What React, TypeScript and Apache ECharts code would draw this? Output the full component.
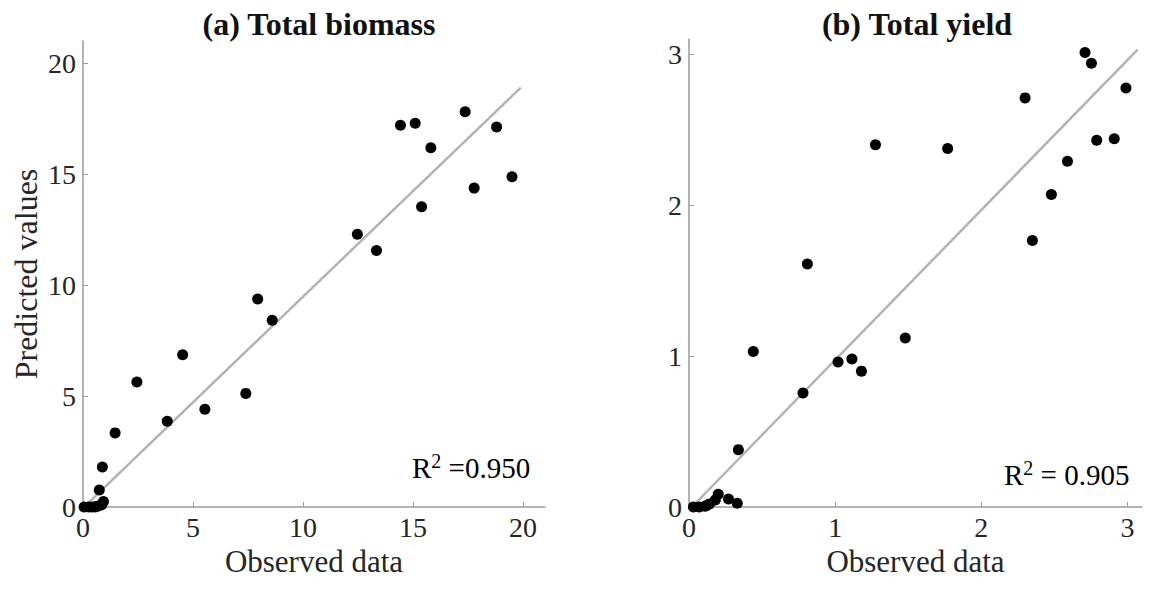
import React, { useEffect, useRef } from "react";
import * as echarts from "echarts";

// (a) Total biomass: observed vs predicted
const biomassObserved = [14.43, 15.1, 17.37, 18.8, 15.81, 19.5, 17.78, 15.39, 12.47, 13.34, 7.94, 8.6, 4.53, 2.45, 7.4, 5.54, 3.83, 1.46, 0.88, 0.74, 0.93, 0.05, 0.25, 0.4, 0.55, 0.7, 0.85, 0.6];
const biomassPredicted = [17.2, 17.29, 17.81, 17.12, 16.19, 14.88, 14.37, 13.53, 12.29, 11.56, 9.37, 8.42, 6.86, 5.63, 5.12, 4.41, 3.86, 3.34, 1.8, 0.77, 0.25, 0.0, 0.0, 0.0, 0.0, 0.05, 0.1, 0.02];
const biomassFit = [[0.15, 0.1], [19.9, 18.9]];
const biomassTicks = [0, 5, 10, 15, 20];

// (b) Total yield: observed vs predicted
const yieldObserved = [2.71, 2.754, 2.99, 2.3, 2.79, 2.91, 1.276, 1.77, 2.59, 2.48, 2.35, 0.81, 1.48, 0.44, 1.115, 1.02, 1.18, 0.78, 0.338, 0.2, 0.27, 0.33, 0.18, 0.14, 0.11, 0.07, 0.03, 0.12];
const yieldPredicted = [3.01, 2.94, 2.775, 2.71, 2.43, 2.44, 2.4, 2.375, 2.29, 2.07, 1.765, 1.61, 1.12, 1.03, 0.98, 0.96, 0.9, 0.755, 0.38, 0.084, 0.053, 0.025, 0.046, 0.02, 0.005, 0.0, 0.0, 0.01];
const yieldFit = [[0.02, 0.0], [3.07, 3.03]];
const yieldTicks = [0, 1, 2, 3];

const titles = ["(a) Total biomass", "(b) Total yield"];
const xName = "Observed data";
const yName = "Predicted values";

const FONT = "Liberation Serif";
const TEXT = "#262626";
const AXIS = "#9a9a9a";
const FIT = "#b3b3b3";

function zip(a: number[], b: number[]) {
  return a.map((v, i) => [v, b[i]]);
}

function makeX(idx: number, max: number, ticks: number[], interval: number) {
  return {
    type: "value",
    gridIndex: idx,
    min: 0,
    max,
    interval,
    name: xName,
    nameLocation: "middle",
    nameGap: 36,
    nameTextStyle: { fontFamily: FONT, fontSize: 31, color: TEXT },
    axisLine: { show: true, onZero: false, lineStyle: { color: AXIS, width: 1.5 } },
    axisTick: { show: true, inside: true, length: 5, customValues: ticks, lineStyle: { color: AXIS } },
    axisLabel: { fontFamily: FONT, fontSize: 28, color: TEXT, margin: 6, customValues: ticks },
    splitLine: { show: false },
  };
}

function makeY(idx: number, max: number, ticks: number[], interval: number, withName: boolean) {
  return {
    type: "value",
    gridIndex: idx,
    min: 0,
    max,
    interval,
    name: withName ? yName : "",
    nameLocation: "middle",
    nameGap: 41,
    nameTextStyle: { fontFamily: FONT, fontSize: 32, color: TEXT },
    axisLine: { show: true, onZero: false, lineStyle: { color: AXIS, width: 1.5 } },
    axisTick: { show: true, inside: true, length: 5, customValues: ticks, lineStyle: { color: AXIS } },
    axisLabel: { fontFamily: FONT, fontSize: 28, color: TEXT, margin: 7, customValues: ticks },
    splitLine: { show: false },
  };
}

function r2Text(x: number, y: number, rest: string) {
  return {
    type: "text",
    x,
    y,
    style: {
      text: "{r|R}{s|2}{r|" + rest + "}",
      verticalAlign: "bottom",
      align: "left",
      rich: {
        r: { fontFamily: FONT, fontSize: 29, color: "#1a1a1a", verticalAlign: "bottom", lineHeight: 31 },
        s: { fontFamily: FONT, fontSize: 20, color: "#1a1a1a", verticalAlign: "top", lineHeight: 20 },
      },
    },
  };
}

export default function App() {
  const ref = useRef<HTMLDivElement>(null);
  useEffect(() => {
    if (!ref.current) return;
    const chart = echarts.init(ref.current, null, { renderer: "svg" });
    chart.setOption({
      animation: false,
      backgroundColor: "#ffffff",
      title: [
        { text: titles[0], left: 314, top: 3, textAlign: "center", textStyle: { fontFamily: FONT, fontSize: 32, fontWeight: "bold", color: "#111" } },
        { text: titles[1], left: 912, top: 3, textAlign: "center", textStyle: { fontFamily: FONT, fontSize: 32, fontWeight: "bold", color: "#111" } },
      ],
      grid: [
        { left: 83, top: 41, width: 462, height: 466 },
        { left: 689, top: 39, width: 453, height: 468 },
      ],
      xAxis: [makeX(0, 21, biomassTicks, 5), makeX(1, 3.1, yieldTicks, 1)],
      yAxis: [makeY(0, 21, biomassTicks, 5, true), makeY(1, 3.1, yieldTicks, 1, false)],
      series: [
        {
          type: "line",
          xAxisIndex: 0,
          yAxisIndex: 0,
          data: biomassFit,
          symbol: "none",
          lineStyle: { color: FIT, width: 2.5 },
          z: 1,
        },
        {
          type: "scatter",
          xAxisIndex: 0,
          yAxisIndex: 0,
          data: zip(biomassObserved, biomassPredicted),
          symbolSize: 11,
          itemStyle: { color: "#000", opacity: 1 },
          z: 2,
        },
        {
          type: "line",
          xAxisIndex: 1,
          yAxisIndex: 1,
          data: yieldFit,
          symbol: "none",
          lineStyle: { color: FIT, width: 2.5 },
          z: 1,
        },
        {
          type: "scatter",
          xAxisIndex: 1,
          yAxisIndex: 1,
          data: zip(yieldObserved, yieldPredicted),
          symbolSize: 11,
          itemStyle: { color: "#000", opacity: 1 },
          z: 2,
        },
      ],
      graphic: [r2Text(412, 482, " =0.950"), r2Text(1004, 489, " = 0.905")],
    });
    return () => chart.dispose();
  }, []);
  return <div ref={ref} style={{ width: 1151, height: 589, position: "absolute", left: 0, top: 0 }} />;
}
